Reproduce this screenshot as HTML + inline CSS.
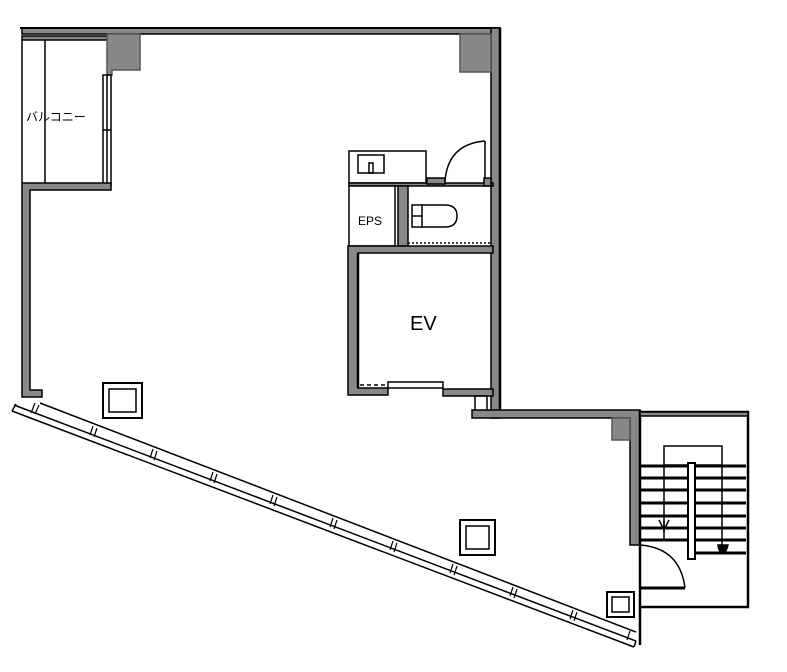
<!DOCTYPE html>
<html><head><meta charset="utf-8"><style>html,body{margin:0;padding:0;background:#fff;}svg{display:block}</style></head>
<body>
<svg width="787" height="672" viewBox="0 0 787 672" xmlns="http://www.w3.org/2000/svg" font-family="Liberation Sans, Noto Sans CJK JP, sans-serif">
<g stroke="#000" stroke-width="1.5" fill="none">
<!-- top wall -->
<rect x="22" y="28" width="478" height="6" fill="#888"/>
<line x1="20" y1="28" x2="500" y2="28" stroke-width="2"/>
<rect x="22" y="36" width="86" height="4" fill="#888"/>
<!-- right wall -->
<rect x="491" y="28" width="9" height="390" fill="#888"/>
<line x1="500" y1="28" x2="500" y2="410" stroke-width="2.5"/>
<!-- columns -->
<path d="M107 34 H140 V70 H112 V75 H107 Z" fill="#888" stroke="#555"/>
<path d="M460 34 H491 V72 H460 Z" fill="#888" stroke="#555"/>
<!-- balcony -->
<line x1="22" y1="40" x2="22" y2="183"/>
<line x1="45" y1="40" x2="45" y2="183"/>
<rect x="103" y="75" width="8" height="110" fill="#fff"/>
<line x1="107" y1="75" x2="107" y2="183"/>
<line x1="103" y1="130" x2="111" y2="130"/>
<!-- left wall -->
<path d="M22 183 H111 V190 H30 V390 H42 V397 H22 Z" fill="#888"/>
<!-- toilet block -->
<rect x="349" y="151" width="77" height="32" fill="#fff"/>
<rect x="358" y="155" width="26" height="18"/>
<rect x="369" y="163" width="4" height="10"/>
<rect x="349" y="183" width="144" height="3" fill="#888"/>
<rect x="349" y="186" width="46" height="60" fill="#fff"/>
<rect x="398" y="186" width="10" height="60" fill="#888"/>
<line x1="408" y1="243" x2="490" y2="243" stroke-dasharray="2 2"/>
<rect x="412" y="205" width="10" height="22"/>
<line x1="412" y1="216" x2="422" y2="216"/>
<path d="M422 205 H445 Q457 205 457 216 Q457 227 445 227 H422"/>
<path d="M485 141 V181 M445 181 Q448 144 485 141"/>
<rect x="427" y="178" width="18" height="6" fill="#888"/>
<rect x="484" y="178" width="7" height="8" fill="#888"/>
<!-- EV -->
<path d="M348 246 H493 V253 H358 V388 H388 V395 H348 Z" fill="#888"/>
<line x1="358" y1="253" x2="358" y2="388" stroke-width="2.5"/>
<line x1="360" y1="385" x2="388" y2="385" stroke-dasharray="4 3"/>
<rect x="388" y="382" width="55" height="6" fill="#fff"/>
<rect x="443" y="389" width="50" height="7" fill="#888"/>
<rect x="475" y="396" width="12" height="16"/>
<!-- step wall -->
<path d="M472 410 H640 V545 H630 V418 H472 Z" fill="#888"/>
<path d="M612 418 H630 V440 H612 Z" fill="#888" stroke="#555"/>
<line x1="640" y1="410" x2="640" y2="645" stroke-width="2.5"/>
<!-- stair -->
<path d="M640 412 H748 V607 H640" stroke-width="2.5"/>
<rect x="640" y="412" width="108" height="4" fill="#888"/>
<rect x="664" y="446" width="58" height="19"/>
<g stroke-width="3">
<line x1="641" y1="466" x2="746" y2="466"/><line x1="641" y1="478" x2="746" y2="478"/>
<line x1="641" y1="490" x2="746" y2="490"/><line x1="641" y1="503" x2="746" y2="503"/>
<line x1="641" y1="516" x2="746" y2="516"/><line x1="641" y1="528" x2="746" y2="528"/>
<line x1="641" y1="540" x2="746" y2="540"/><line x1="696" y1="553" x2="746" y2="553"/>
</g>
<line x1="664" y1="465" x2="664" y2="540"/><line x1="722" y1="465" x2="722" y2="553"/>
<rect x="688" y="463" width="7" height="96" fill="#fff" stroke-width="2"/>
<path d="M659 520 L664 530 L669 520 M664 520 V532"/>
<path d="M718 545 H728 Q726 553 723 553 Q719 553 718 545Z" fill="#000"/>
<line x1="640" y1="588" x2="685" y2="588" stroke-width="3"/>
<path d="M640 545 Q680 548 685 588"/>
<!-- columns squares -->
<rect x="103" y="383" width="39" height="35" stroke-width="2"/><rect x="109" y="389" width="27" height="23"/>
<rect x="460" y="520" width="35" height="35" stroke-width="2"/><rect x="466" y="526" width="23" height="23"/>
<rect x="607" y="592" width="27" height="25" stroke-width="2"/><rect x="612" y="597" width="17" height="15"/>
<!-- diagonal -->
<line x1="40" y1="403" x2="636" y2="632"/>
<line x1="14" y1="405" x2="636" y2="641"/>
<line x1="12" y1="411" x2="634" y2="647"/>
<line x1="16" y1="404" x2="12" y2="411"/>
<line x1="636" y1="641" x2="634" y2="647"/>
<g stroke-width="1.2">
<path d="M35 403 L31 413 M39 405 L35 414"/>
<path d="M93 426 L90 435 M97 428 L94 437"/>
<path d="M153 449 L150 458 M157 451 L154 460"/>
<path d="M213 472 L210 481 M217 474 L214 483"/>
<path d="M273 495 L270 504 M277 497 L274 506"/>
<path d="M333 518 L330 527 M337 520 L334 529"/>
<path d="M393 541 L390 550 M397 543 L394 552"/>
<path d="M453 564 L450 573 M457 566 L454 575"/>
<path d="M513 587 L510 596 M517 589 L514 598"/>
<path d="M573 610 L570 619 M577 612 L574 621"/>
<path d="M630 631 L627 640"/>
</g>
</g>
<text x="26" y="121" font-size="12">バルコニー</text>
<text x="358" y="225" font-size="12">EPS</text>
<text x="410" y="330" font-size="20">EV</text>
</svg>
</body></html>
